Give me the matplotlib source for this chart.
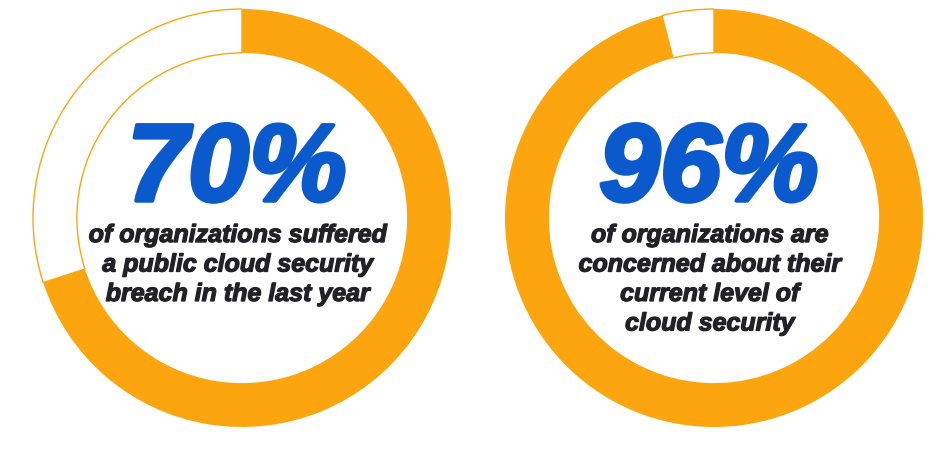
import matplotlib
matplotlib.use("Agg")
import matplotlib.pyplot as plt
import matplotlib.patheffects as pe

# Data
percentages = [70, 96]
big_labels = ["70%", "96%"]
captions = [
    ["of organizations suffered", "a public cloud security", "breach in the last year"],
    ["of organizations are", "concerned about their", "current level of", "cloud security"],
]
centers_px = [(242, 219), (714, 219)]

orange = "#FDA50F"
blue = "#0A5ACD"
dark = "#222226"

W, H = 941, 452
R = 209
fig = plt.figure(figsize=(W / 100, H / 100), dpi=100)
fig.patch.set_facecolor("white")

for pct, big, lines, (cx, cy) in zip(percentages, big_labels, captions, centers_px):
    ax = fig.add_axes([(cx - R) / W, (H - cy - R) / H, 2 * R / W, 2 * R / H])
    wedges, _ = ax.pie(
        [pct, 100 - pct],
        colors=[orange, "white"],
        startangle=90,
        counterclock=False,
        radius=1.0,
        wedgeprops=dict(width=0.21, linewidth=0),
    )
    wedges[1].set_edgecolor(orange)
    wedges[1].set_linewidth(1.0)
    ax.set_xlim(-1.0, 1.0)
    ax.set_ylim(-1.0, 1.0)
    ax.set_aspect("equal")
    ax.axis("off")

    ax.text(-0.025, 0.083, big, ha="center", va="baseline", color=blue,
            fontsize=79, fontweight="bold", fontstyle="italic",
            family="Liberation Sans",
            path_effects=[pe.withStroke(linewidth=3, foreground=blue)])
    for i, line in enumerate(lines):
        ax.text(-0.02, -0.115 - 0.141 * i, line, ha="center", va="baseline",
                color=dark, fontsize=18, fontweight="bold", fontstyle="italic",
                family="Liberation Sans",
                path_effects=[pe.withStroke(linewidth=0.9, foreground=dark)])

fig.savefig("out.png", dpi=100, facecolor="white")
